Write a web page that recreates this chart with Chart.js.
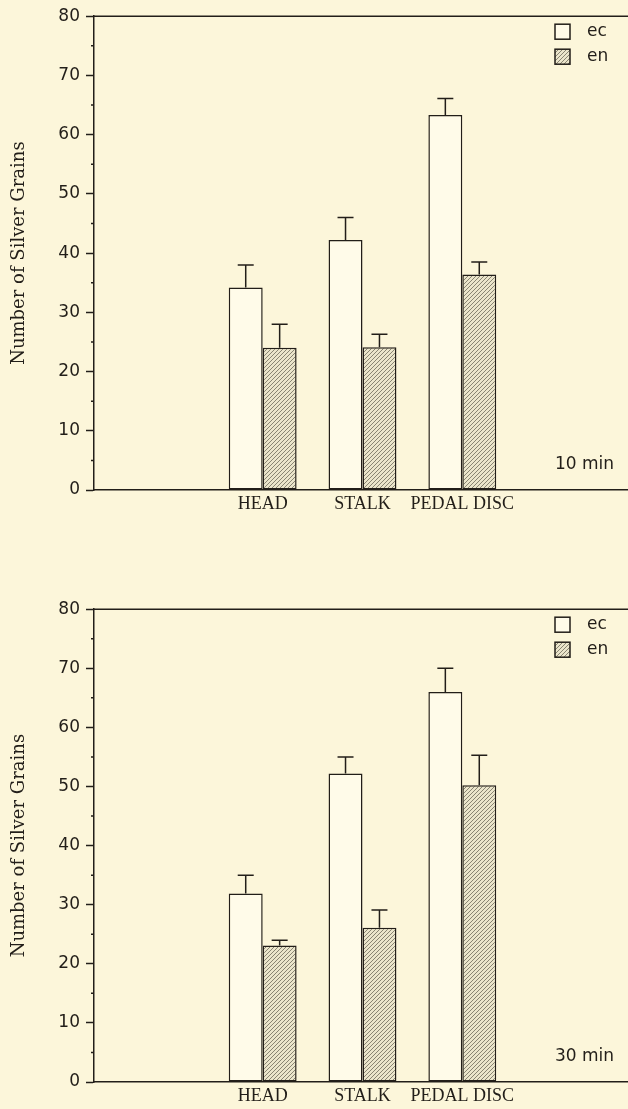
<!DOCTYPE html>
<html lang="en">
  <head>
    <meta charset="UTF-8" />
    <title>Number of Silver Grains, ec / en</title>
    <script src="https://cdn.jsdelivr.net/npm/chart.js@4.4.1/dist/chart.umd.min.js"></script>
    <style>
      html,
      body {
        margin: 0;
        padding: 0;
        background: #fcf6da;
        overflow: hidden;
      }
      canvas {
        display: block;
      }
    </style>
  </head>
  <body>
    <canvas id="chart10" width="628" height="593"></canvas>
    <canvas id="chart30" width="628" height="516"></canvas>
    <script>
      const categories = ["HEAD", "STALK", "PEDAL DISC"];
      const seriesNames = ["ec", "en"];
      const yTitle = "Number of Silver Grains";
      const yMax = 80;
      const yStep = 10;

      // 10 min panel
      const ec10 = [34.2, 42.2, 63.3];
      const ec10Err = [3.8, 3.8, 2.8];
      const en10 = [24.0, 24.1, 36.4];
      const en10Err = [4.0, 2.2, 2.1];

      // 30 min panel
      const ec30 = [31.9, 52.2, 66.0];
      const ec30Err = [3.1, 2.8, 4.0];
      const en30 = [23.1, 26.1, 50.2];
      const en30Err = [0.9, 3.0, 5.1];

      const ink = "#221e19";

      function hatch(ctx) {
        const c = document.createElement("canvas");
        c.width = 4;
        c.height = 4;
        const g = c.getContext("2d");
        g.fillStyle = "#ebe5cb";
        g.fillRect(0, 0, 4, 4);
        g.strokeStyle = "#7d7868";
        g.lineWidth = 0.9;
        g.beginPath();
        g.moveTo(0, 4);
        g.lineTo(4, 0);
        g.moveTo(-1, 1);
        g.lineTo(1, -1);
        g.moveTo(3, 5);
        g.lineTo(5, 3);
        g.stroke();
        return ctx.createPattern(c, "repeat");
      }

      // error bars, top frame, minor ticks, legend and panel label
      const decor = {
        id: "decor",
        afterDatasetsDraw(chart) {
          const ctx = chart.ctx;
          const y = chart.scales.y;
          ctx.save();
          ctx.strokeStyle = ink;
          ctx.lineWidth = 1.5;
          chart.data.datasets.forEach((ds, d) => {
            chart.getDatasetMeta(d).data.forEach((bar, j) => {
              const top = y.getPixelForValue(ds.data[j].y + ds.errors[j]);
              ctx.beginPath();
              ctx.moveTo(bar.x, bar.y);
              ctx.lineTo(bar.x, top);
              ctx.moveTo(bar.x - 8, top);
              ctx.lineTo(bar.x + 8, top);
              ctx.stroke();
            });
          });
          ctx.restore();
        },
        afterDraw(chart, args, opts) {
          const { ctx, chartArea: a } = chart;
          const y = chart.scales.y;
          ctx.save();
          ctx.strokeStyle = ink;
          ctx.lineWidth = 1.5;
          ctx.beginPath();
          ctx.moveTo(a.left, a.top);
          ctx.lineTo(a.right, a.top);
          for (let v = yStep / 2; v < yMax; v += yStep) {
            const p = y.getPixelForValue(v);
            ctx.moveTo(a.left - 3, p);
            ctx.lineTo(a.left, p);
          }
          ctx.stroke();

          ctx.font = "17px 'DejaVu Sans'";
          ctx.textBaseline = "middle";
          chart.data.datasets.forEach((ds, d) => {
            const bx = a.right - 73;
            const by = a.top + 8 + d * 25;
            ctx.fillStyle = ds.backgroundColor;
            ctx.fillRect(bx, by, 15, 15);
            ctx.strokeRect(bx, by, 15, 15);
            ctx.fillStyle = ink;
            ctx.fillText(ds.label, bx + 32, by + 7.5);
          });
          ctx.fillText(opts.text, a.right - 73, a.bottom - 25);
          ctx.restore();
        }
      };

      function makeChart(id, ec, ecErr, en, enErr, panelLabel, topPad, xHeight) {
        const canvas = document.getElementById(id);
        const ctx = canvas.getContext("2d");
        return new Chart(ctx, {
          type: "bar",
          data: {
            datasets: [
              {
                label: seriesNames[0],
                data: categories.map((c, i) => ({ x: i, y: ec[i] })),
                errors: ecErr,
                backgroundColor: "#fffbe9",
                borderColor: ink,
                borderWidth: 1.5,
                borderSkipped: false
              },
              {
                label: seriesNames[1],
                data: categories.map((c, i) => ({ x: i, y: en[i] })),
                errors: enErr,
                backgroundColor: hatch(ctx),
                borderColor: ink,
                borderWidth: 1.5,
                borderSkipped: false
              }
            ]
          },
          options: {
            responsive: false,
            animation: false,
            devicePixelRatio: 1,
            categoryPercentage: 0.68,
            barPercentage: 1.0,
            layout: { padding: { top: topPad, left: 0, right: 0, bottom: 0 } },
            plugins: {
              legend: { display: false },
              tooltip: { enabled: false },
              decor: { text: panelLabel }
            },
            scales: {
              x: {
                type: "linear",
                bounds: "data",
                min: -1.69,
                max: 3.66,
                offset: false,
                grid: { display: false },
                border: { display: true, color: ink, width: 1.5 },
                afterBuildTicks: (s) => {
                  s.ticks = categories.map((c, i) => ({ value: i }));
                },
                afterFit: (s) => {
                  s.height = xHeight;
                },
                ticks: {
                  callback: (v) => categories[v],
                  autoSkip: false,
                  maxRotation: 0,
                  padding: -5,
                  color: ink,
                  font: { family: "'Liberation Serif'", size: 18 }
                }
              },
              y: {
                min: 0,
                max: yMax,
                grid: {
                  drawOnChartArea: false,
                  tickLength: 8,
                  tickColor: ink,
                  tickWidth: 1.5
                },
                border: { color: ink, width: 1.5 },
                afterFit: (s) => {
                  s.width = 94;
                },
                ticks: {
                  stepSize: yStep,
                  padding: 6,
                  color: ink,
                  font: { family: "'DejaVu Sans'", size: 17 }
                },
                title: {
                  display: true,
                  text: yTitle,
                  color: ink,
                  padding: { top: 9, bottom: 0 },
                  font: { family: "'DejaVu Serif'", size: 18 }
                }
              }
            }
          },
          plugins: [decor]
        });
      }

      makeChart("chart10", ec10, ec10Err, en10, en10Err, "10 min", 14, 103);
      makeChart("chart30", ec30, ec30Err, en30, en30Err, "30 min", 15, 27);
    </script>
  </body>
</html>
